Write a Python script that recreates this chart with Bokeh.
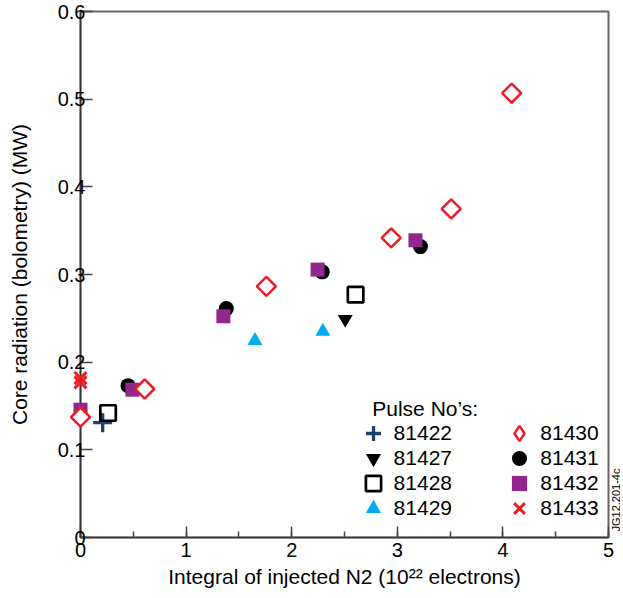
import math
from bokeh.plotting import figure
from bokeh.models import (Range1d, SingleIntervalTicker, FixedTicker, Legend, LegendItem, Label)
from bokeh.core.properties import value
from bokeh.embed import file_html
from bokeh.resources import INLINE

# ---- data ----
x_81422 = [0.21]
y_81422 = [0.131]
x_81427 = [2.507]
y_81427 = [0.249]
x_81428 = [0.261, 2.605]
y_81428 = [0.142, 0.277]
x_81429 = [1.652, 2.295]
y_81429 = [0.2245, 0.235]
x_81430 = [0.0, 0.608, 1.760, 2.942, 3.510, 4.083]
y_81430 = [0.1374, 0.1694, 0.2865, 0.3418, 0.3749, 0.5068]
x_81431 = [0.450, 1.381, 2.289, 3.219]
y_81431 = [0.1732, 0.2611, 0.3030, 0.3318]
x_81432 = [0.0, 0.492, 1.353, 2.245, 3.172]
y_81432 = [0.1458, 0.1686, 0.2523, 0.3056, 0.3390]
x_81433 = [0.0, 0.0]
y_81433 = [0.1820, 0.1770]

y_ticks = [0, 0.1, 0.2, 0.3, 0.4, 0.5, 0.6]
y_tick_labels = ["0", "0.1", "0.2", "0.3", "0.4", "0.5", "0.6"]

FONT = "Liberation Sans"
RED = "#ed1c24"
PURPLE = "#92278f"
CYAN = "#00aeef"
NAVY = "#1d426f"

p = figure(width=620, height=592, x_range=Range1d(0, 5), y_range=Range1d(0, 0.6),
           output_backend="svg", toolbar_location=None,
           min_border_left=80, min_border_right=12, min_border_top=11, min_border_bottom=55)
p.background_fill_color = "white"
p.border_fill_color = "white"
p.outline_line_color = "#666666"
p.outline_line_width = 2
p.xgrid.visible = False
p.ygrid.visible = False

xa = p.xaxis[0]
ya = p.yaxis[0]
xa.ticker = SingleIntervalTicker(interval=1, num_minor_ticks=2)
ya.ticker = FixedTicker(ticks=y_ticks)
ya.major_label_overrides = {t: s for t, s in zip(y_ticks, y_tick_labels)}

for ax in (xa, ya):
    ax.major_tick_in = 11
    ax.major_tick_out = 0
    ax.minor_tick_in = 6
    ax.minor_tick_out = 0
    ax.axis_line_color = "#333333"
    ax.axis_line_width = 1.5
    ax.major_tick_line_color = "#444444"
    ax.major_tick_line_width = 1.5
    ax.minor_tick_line_color = "#444444"
    ax.minor_tick_line_width = 1.5
    ax.major_label_text_font = FONT
    ax.major_label_text_font_size = "20px"
    ax.major_label_text_color = "black"
    ax.axis_label_text_font = FONT
    ax.axis_label_text_font_size = "21px"
    ax.axis_label_text_font_style = "normal"
    ax.axis_label_text_color = "black"

ya.major_tick_in = 12
ya.major_label_standoff = -5
ya.axis_label_standoff = 24
xa.major_label_standoff = 5
xa.axis_label_standoff = 5
xa.axis_label = "Integral of injected N2 (10\u00b2\u00b2 electrons)"
ya.axis_label = "Core radiation (bolometry) (MW)"

# ---- data marks (drawn unclipped, like the reference, so points at x=0 show whole) ----
LV = "overlay"
r22 = p.scatter(x_81422, y_81422, marker="cross", size=19, line_color=NAVY, line_width=3.3, level=LV)
r27 = p.scatter(x_81427, y_81427, marker="inverted_triangle", size=15, fill_color="black", line_color=None, level=LV)
r28 = p.scatter(x_81428, y_81428, marker="square", size=15.5, fill_color=None, line_color="black", line_width=2.7, level=LV)
r29 = p.scatter(x_81429, y_81429, marker="triangle", size=15, fill_color=CYAN, line_color=None, level=LV)
r31 = p.scatter(x_81431, y_81431, marker="circle", size=15, fill_color="black", line_color=None, level=LV)
r32 = p.scatter(x_81432, y_81432, marker="square", size=14, fill_color=PURPLE, line_color=None, level=LV)
r30 = p.scatter(x_81430, y_81430, marker="square", angle=math.pi / 4, size=13.5,
                fill_color="white", line_color=RED, line_width=2.5, level=LV)
r33 = p.scatter(x_81433, y_81433, marker="x", size=17, line_color=RED, line_width=3, level=LV)

# legend proxy for the open diamond (legend glyphs are drawn without rotation); NaN -> nothing in plot
r30_leg = p.scatter([float("nan")], [float("nan")], marker="diamond", size=20,
                    fill_color="white", line_color=RED, line_width=2.5)

leg_style = dict(glyph_width=38, glyph_height=38, spacing=0, padding=0, margin=0,
                 border_line_color=None, background_fill_alpha=0, label_standoff=2,
                 label_text_font=FONT, label_text_font_size="21px", label_text_color="black")

legend_cols = [273.6, 420.3]            # legend column offsets from frame left (px)
legend_rows = [85.4, 60.4, 34.7, 10.4]  # legend row offsets from frame bottom (px)
legend_entries = [
    [("81422", r22), ("81427", r27), ("81428", r28), ("81429", r29)],
    [("81430", r30_leg), ("81431", r31), ("81432", r32), ("81433", r33)],
]
for cx, col in zip(legend_cols, legend_entries):
    for ry, (lab, rend) in zip(legend_rows, col):
        p.add_layout(Legend(items=[LegendItem(label=lab, renderers=[rend])],
                            location=(cx, ry), **leg_style))

p.add_layout(Label(x=2.763, y=0.1477, text="Pulse No\u2019s:", text_font=FONT, text_font_size="21px",
                   text_align="left", text_baseline="middle", text_color="black"))

# figure id, written up the right-hand edge just outside the frame
p.text(x=[5], y=[0], text=["JG12.201-4c"], angle=math.pi / 2, x_offset=7, y_offset=-6,
       text_font=value(FONT), text_font_size="11px", text_align="left",
       text_baseline="middle", text_color="black", level="overlay")

open("out.html", "w").write(file_html(p, INLINE))
